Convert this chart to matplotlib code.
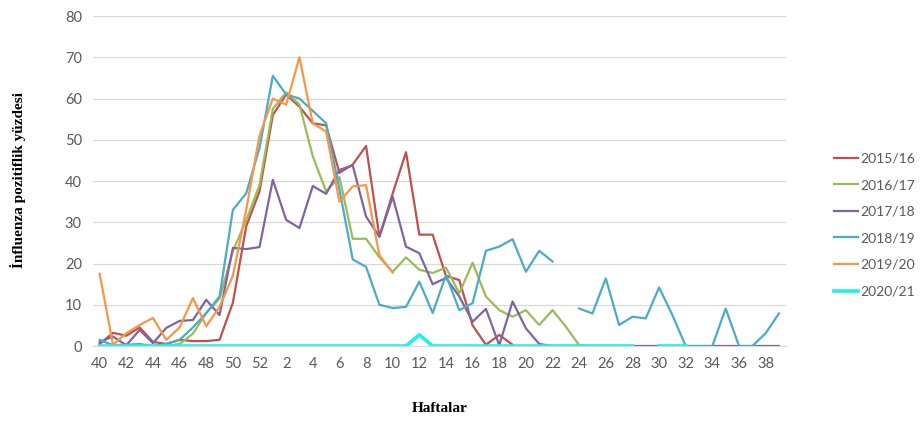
import numpy as np
import matplotlib
matplotlib.use("Agg")
import matplotlib.pyplot as plt

nan = np.nan

# Hafta sırası: 40..52, 1..39
weeks = list(range(40, 53)) + list(range(1, 40))

s2015_16 = [0.5, 3.2, 2.5, 4.5, 1.0, 0.5, 1.5, 1.2, 1.2, 1.5, 10.5, 29, 37.5,
            56, 61, 58, 54, 53.5, 42, 44, 48.5, 26.5, 37, 47, 27, 27, 17, 16, 5, 0.3, 2.7, 0.3,
            nan, nan, nan, nan, nan, nan, nan, nan, nan, nan, nan, nan, nan, nan, nan, nan,
            nan, nan, nan, nan]
s2016_17 = [0, 0, 0, 0, 0, 0, 0.5, 3, 8, 11.5, 23, 30.5, 39,
            57.5, 61.5, 58.5, 46, 37.5, 41, 26, 26, 21.5, 18, 21.5, 18.5, 17.7, 19, 12.8, 20.2, 12,
            8.7, 7.1, 8.7, 5.1, 8.7, 4.7, 0.2, 0, 0, 0, 0, 0, 0, 0, 0, 0, 0, 0, 0, 0, 0, 0]
s2017_18 = [1, 2.3, 0.2, 3.9, 0.7, 4.4, 6.1, 6.3, 11.2, 7.5, 23.8, 23.5, 24,
            40.3, 30.6, 28.6, 38.8, 36.9, 42.7, 43.8, 31.4, 26.5, 36.2, 24.1, 22.5, 15, 16.5, 12,
            5.9, 9, 0.2, 10.8, 4.3, 0.5, 0, 0, 0, 0, 0, 0, 0, 0, 0, 0, 0, 0, 0, 0, 0, 0, 0, 0]
s2018_19 = [1.5, 0.2, 0.3, 0.5, 0, 0.5, 1.5, 4.5, 8, 12, 33, 37, 48,
            65.5, 61, 60, 57, 54, 38, 21, 19.2, 10, 9.2, 9.5, 15.6, 8, 17.2, 8.7, 10.4, 23.1,
            24.1, 25.9, 18, 23.1, 20.5, nan, 9.1, 7.9, 16.4, 5.1, 7.1, 6.7, 14.2, 7.5, 0, 0, 0,
            9.1, 0, 0, 3.1, 7.9]
s2019_20 = [17.5, 0.3, 3.1, 5.1, 6.8, 1.5, 4.5, 11.6, 4.8, 9.5, 17, 33, 51,
            60, 58.5, 70, 54, 52, 35, 38.7, 39, 22, 17.8,
            nan, nan, nan, nan, nan, nan, nan, nan, nan, nan, nan, nan, nan, nan, nan, nan, nan,
            nan, nan, nan, nan, nan, nan, nan, nan, nan, nan, nan, nan]
s2020_21 = [0, 0, 0, 0, 0, 0, 0, 0, 0, 0, 0, 0, 0,
            0, 0, 0, 0, 0, 0, 0, 0, 0, 0, 0, 2.7, 0, 0, 0, 0, 0, 0, 0, 0, 0, 0, 0, 0, 0, 0, 0,
            0, nan, 0, 0, 0, nan, nan, nan, nan, nan, nan, nan]

seasons = ["2015/16", "2016/17", "2017/18", "2018/19", "2019/20", "2020/21"]
series = [s2015_16, s2016_17, s2017_18, s2018_19, s2019_20, s2020_21]
colors = ["#C0504D", "#9BBB59", "#8064A2", "#4BACC6", "#F79646", "#1FF0F0"]
widths = [1.6, 1.6, 1.6, 1.6, 1.6, 2.6]

fig = plt.figure(figsize=(9.21, 4.22), dpi=100, facecolor="w")
ax = fig.add_axes([0.101, 0.18, 0.752, 0.782])

x = np.arange(len(weeks))
for vals, lab, c, lw in zip(series, seasons, colors, widths):
    ax.plot(x, np.array(vals, dtype=float), color=c, lw=lw, label=lab, zorder=3)

ax.set_xlim(-0.5, len(weeks) - 0.5)
ax.set_ylim(0, 80)
ax.set_yticks(range(0, 81, 10))
ax.set_xticks(x[::2])
ax.set_xticklabels([str(w) for w in weeks[::2]])

ax.grid(axis="y", color="#D9D9D9", lw=0.9, zorder=0)
for sp in ["top", "right", "left"]:
    ax.spines[sp].set_visible(False)
ax.spines["bottom"].set_color("#D9D9D9")
ax.tick_params(axis="both", length=0, labelsize=10.5, labelcolor="#595959", pad=8)
for t in ax.get_xticklabels() + ax.get_yticklabels():
    t.set_family("Lato")

# Eksen başlıkları
fig.text(18 / 921, 1 - 180 / 422, "İnfluenza pozitiflik yüzdesi", family="Liberation Serif",
         fontweight="bold", fontsize=11, rotation=90, ha="center", va="center")
fig.text(440 / 921, 1 - 408 / 422, "Haftalar", family="Liberation Serif",
         fontweight="bold", fontsize=11, ha="center", va="center")

leg = fig.legend(loc="center left", bbox_to_anchor=(834 / 921, 1 - 225 / 422), frameon=False,
                 prop={"family": "Lato", "size": 10}, handlelength=1.7,
                 handletextpad=0.2, labelspacing=1.05, borderpad=0, borderaxespad=0)
for t in leg.get_texts():
    t.set_color("#595959")

fig.savefig("out.png", dpi=100, facecolor="w")
plt.close(fig)
